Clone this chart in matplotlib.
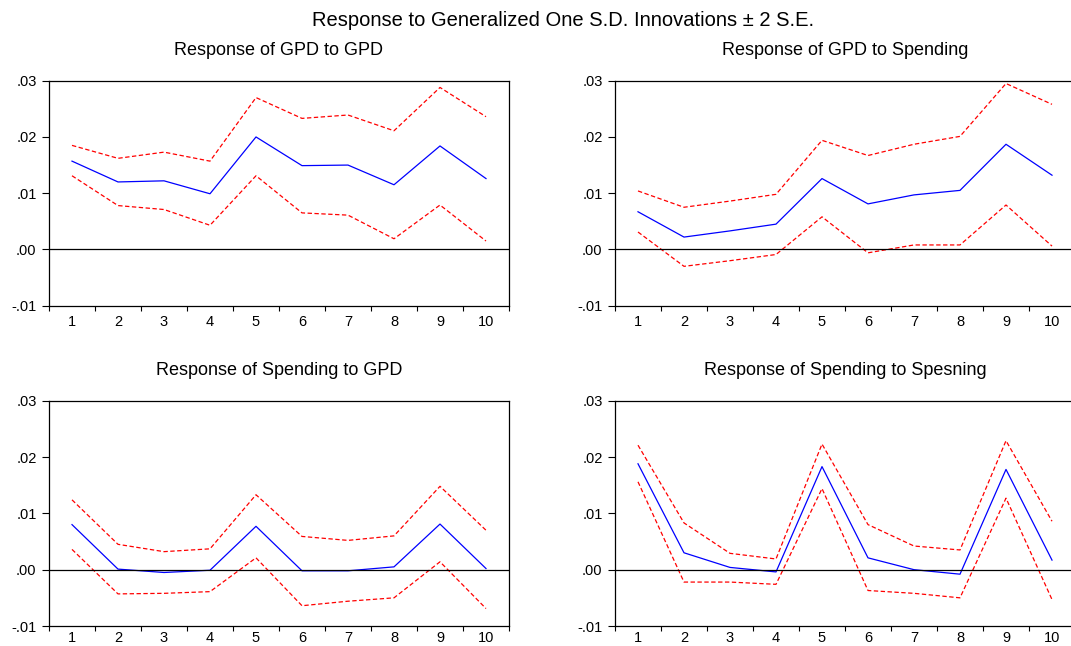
import matplotlib
matplotlib.use("Agg")
import matplotlib.pyplot as plt
import numpy as np

plt.rcParams['font.family'] = ['Liberation Sans', 'DejaVu Sans']

periods = [1, 2, 3, 4, 5, 6, 7, 8, 9, 10]

gpd_gpd = [0.0157, 0.0120, 0.0122, 0.0099, 0.0200, 0.0149, 0.0150, 0.0115, 0.0184, 0.0126]
gpd_gpd_up = [0.0185, 0.0162, 0.0173, 0.0157, 0.0270, 0.0233, 0.0239, 0.0211, 0.0288, 0.0236]
gpd_gpd_lo = [0.0131, 0.0078, 0.0071, 0.0043, 0.0131, 0.0065, 0.0061, 0.0019, 0.0079, 0.0015]

gpd_sp = [0.0067, 0.0022, 0.0033, 0.0045, 0.0126, 0.0081, 0.0097, 0.0105, 0.0187, 0.0132]
gpd_sp_up = [0.0104, 0.0075, 0.0086, 0.0098, 0.0194, 0.0167, 0.0187, 0.0201, 0.0295, 0.0258]
gpd_sp_lo = [0.0031, -0.0030, -0.0020, -0.0009, 0.0058, -0.0006, 0.0008, 0.0008, 0.0079, 0.0006]

sp_gpd = [0.0080, 0.0001, -0.0005, -0.0001, 0.0077, -0.0002, -0.0002, 0.0005, 0.0081, 0.0002]
sp_gpd_up = [0.0124, 0.0045, 0.0032, 0.0037, 0.0133, 0.0059, 0.0052, 0.0060, 0.0148, 0.0070]
sp_gpd_lo = [0.0036, -0.0043, -0.0042, -0.0039, 0.0021, -0.0064, -0.0056, -0.0050, 0.0014, -0.0069]

sp_sp = [0.0188, 0.0030, 0.0004, -0.0004, 0.0183, 0.0021, 0.0000, -0.0008, 0.0178, 0.0017]
sp_sp_up = [0.0221, 0.0083, 0.0029, 0.0019, 0.0223, 0.0080, 0.0042, 0.0035, 0.0229, 0.0086]
sp_sp_lo = [0.0156, -0.0022, -0.0022, -0.0026, 0.0144, -0.0037, -0.0042, -0.0050, 0.0127, -0.0053]

titles = ["Response of GPD to GPD", "Response of GPD to Spending",
          "Response of Spending to GPD", "Response of Spending to Spesning"]
series = [(gpd_gpd, gpd_gpd_up, gpd_gpd_lo), (gpd_sp, gpd_sp_up, gpd_sp_lo),
          (sp_gpd, sp_gpd_up, sp_gpd_lo), (sp_sp, sp_sp_up, sp_sp_lo)]
yticks = [-0.01, 0.0, 0.01, 0.02, 0.03]
ytick_labels = ["-.01", ".00", ".01", ".02", ".03"]

W, H = 1071, 646
fig = plt.figure(figsize=(W / 100, H / 100), dpi=100)

# pixel boxes: (left, top, right, bottom), x-label pad in points
boxes = [(49, 80.7, 509, 305.7, 6.5), (615, 80.7, 1075, 305.7, 6.5),
         (49, 400.7, 509, 626, 3.5), (615, 400.7, 1075, 626, 3.5)]

for (l, t, r, b, xpad), ttl, (mid, up, lo) in zip(boxes, titles, series):
    ax = fig.add_axes([l / W, (H - b) / H, (r - l) / W, (b - t) / H])
    ax.plot(periods, up, color='#ff0000', lw=0.9, ls=(0, (3.5, 2)))
    ax.plot(periods, lo, color='#ff0000', lw=0.9, ls=(0, (3.5, 2)))
    ax.plot(periods, mid, color='#0000ff', lw=0.9)
    ax.axhline(0, color='black', lw=0.9)
    ax.set_xlim(0.5, 10.5)
    ax.set_ylim(-0.01, 0.03)
    ax.set_yticks(yticks)
    ax.set_yticklabels(ytick_labels)
    ax.set_xticks(np.arange(0.5, 11.0, 1.0))
    ax.set_xticklabels([])
    ax.set_xticks(periods, minor=True)
    ax.set_xticklabels([str(p) for p in periods], minor=True)
    ax.tick_params(axis='x', which='major', direction='out', length=3.6, width=0.8)
    ax.tick_params(axis='x', which='minor', length=0, pad=xpad, labelsize=10.5)
    ax.tick_params(axis='y', direction='out', length=5, width=0.8, pad=4, labelsize=10.5)
    for s in ax.spines.values():
        s.set_linewidth(0.9)
    ax.text(0.5, 1 + 30 / (b - t), ttl, transform=ax.transAxes,
            ha='center', va='center', fontsize=13)

fig.text(563 / W, 1 - 20 / H, "Response to Generalized One S.D. Innovations \u00b1 2 S.E.",
         ha='center', va='center', fontsize=14.5)

fig.savefig("out.png", dpi=100)
